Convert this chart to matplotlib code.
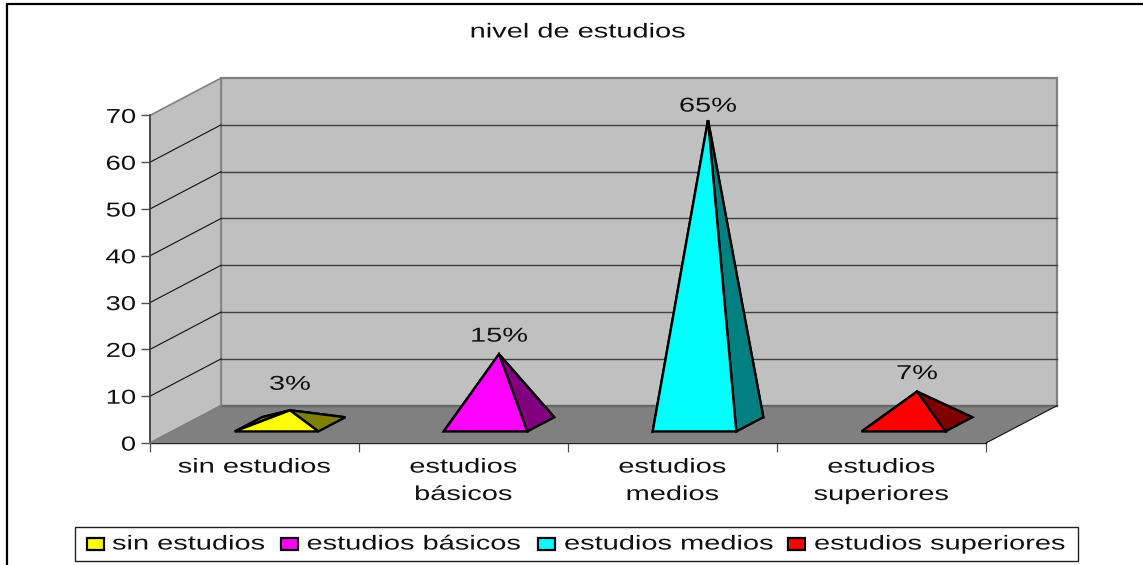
import matplotlib
matplotlib.use("Agg")
import matplotlib.pyplot as plt
from matplotlib.patches import Polygon, Rectangle
from matplotlib.lines import Line2D
from matplotlib.patheffects import AbstractPathEffect
from matplotlib.transforms import Affine2D

title = "nivel de estudios"
categories = ["sin estudios", "estudios básicos", "estudios medios", "estudios superiores"]
tick_labels = ["sin estudios", "estudios\nbásicos", "estudios\nmedios", "estudios\nsuperiores"]
values = [3, 15, 65, 7]
value_labels = ["3%", "15%", "65%", "7%"]
y_ticks = [0, 10, 20, 30, 40, 50, 60, 70]
front_colors = ["#FFFF00", "#FF00FF", "#00FFFF", "#FF0000"]
side_colors = ["#808000", "#800080", "#008080", "#800000"]

W, H = 1143, 565
FONT = "Liberation Sans"
FS = 14.5
SX = 1.44
DX, DV = 71 / 209, 37.3 / 4.68      # shear of one depth unit, in data units
Z0, Z1 = 0.31, 0.69                 # depth of the pyramid bases
HALF = 0.2                          # half width of a base in categories
LABEL_GAP = [26, 18, 14, 18]        # pixels between apex and its label


class Stretch(AbstractPathEffect):
    """Widen a text horizontally around one of its edges or its centre."""
    def __init__(self, text, sx, anchor="center"):
        super().__init__()
        self.text, self.sx, self.anchor = text, sx, anchor

    def draw_path(self, renderer, gc, tpath, affine, rgbFace=None):
        bb = self.text.get_window_extent(renderer)
        c = {"left": bb.x0, "right": bb.x1, "center": (bb.x0 + bb.x1) / 2}[self.anchor]
        new = affine + Affine2D().translate(-c, 0).scale(self.sx, 1).translate(c, 0)
        renderer.draw_path(gc, tpath, new, rgbFace)


def widen(t, anchor="center", sx=SX):
    t.set_path_effects([Stretch(t, sx, anchor)])
    return t


def proj(x, z, v):
    return (x + z * DX, v + z * DV)


fig = plt.figure(figsize=(W / 100, H / 100), dpi=100, facecolor="white")
px = Affine2D().scale(1, -1).translate(0, H) + fig.dpi_scale_trans.inverted() + fig.dpi_scale_trans

ax = fig.add_axes([150 / W, 1 - 443 / H, (986 - 150) / W, (443 - 115.4) / H])
ax.set_xlim(0, 4)
ax.set_ylim(0, 70)
ax.patch.set_visible(False)
for s in ("top", "right"):
    ax.spines[s].set_visible(False)
ax.spines["left"].set_color("#404040")
ax.spines["left"].set_linewidth(1.2)
ax.spines["bottom"].set_color("#202020")
ax.spines["bottom"].set_linewidth(1.0)

# walls and floor
ymax = y_ticks[-1]
ax.add_patch(Polygon([proj(0, 1, 0), proj(4, 1, 0), proj(4, 1, ymax), proj(0, 1, ymax)],
                     fc="#C0C0C0", ec="#808080", lw=1.6, clip_on=False, zorder=1))
ax.add_patch(Polygon([proj(0, 0, 0), proj(0, 1, 0), proj(0, 1, ymax), proj(0, 0, ymax)],
                     fc="#C0C0C0", ec="#808080", lw=1.2, clip_on=False, zorder=1))
for v in y_ticks[1:-1]:
    ax.plot(*zip(proj(0, 1, v), proj(4, 1, v)), color="#404040", lw=1.0, clip_on=False, zorder=2)
for v in y_ticks[1:-1]:
    ax.plot(*zip(proj(0, 0, v), proj(0, 1, v)), color="#101010", lw=0.8, clip_on=False, zorder=2)
ax.add_patch(Polygon([proj(0, 0, 0), proj(4, 0, 0), proj(4, 1, 0), proj(0, 1, 0)],
                     fc="#808080", ec="none", clip_on=False, zorder=3))
ax.plot(*zip(proj(0, 1, 0), proj(4, 1, 0)), color="#666666", lw=1.6, clip_on=False, zorder=3)
ax.plot(*zip(proj(0, 0, 0), proj(0, 1, 0)), color="#808080", lw=1.2, clip_on=False, zorder=3)
ax.plot(*zip(proj(4, 0, 0), proj(4, 1, 0)), color="#101010", lw=0.8, clip_on=False, zorder=3)

# pyramids
for i, (v, fc, sc) in enumerate(zip(values, front_colors, side_colors)):
    xc = i + 0.5
    fl, fr = proj(xc - HALF, Z0, 0), proj(xc + HALF, Z0, 0)
    bl, br = proj(xc - HALF, Z1, 0), proj(xc + HALF, Z1, 0)
    apex = proj(xc, (Z0 + Z1) / 2, v)
    faces = [([bl, br, apex], sc), ([fl, bl, apex], sc), ([fr, br, apex], sc), ([fl, fr, apex], fc)]
    for pts, col in faces:
        ax.add_patch(Polygon(pts, fc=col, ec="black", lw=1.7, joinstyle="miter",
                             clip_on=False, zorder=4))
    widen(ax.annotate(value_labels[i], xy=apex, xytext=(0, LABEL_GAP[i] * 0.72),
                      textcoords="offset points", ha="center", va="center",
                      family=FONT, fontsize=FS, color="#111111",
                      annotation_clip=False, zorder=6))

# axes ticks
ax.set_yticks(y_ticks)
ax.set_xticks(range(5))
ax.set_xticklabels([])
ax.set_xticks([i + 0.5 for i in range(4)], minor=True)
ax.set_xticklabels(tick_labels, minor=True, family=FONT, fontsize=FS, color="#111111",
                   linespacing=1.56, ha="center", va="top")
ax.tick_params(axis="x", which="major", length=6.5, width=0.9, color="#505050")
ax.tick_params(axis="x", which="minor", length=0, pad=10.5)
ax.tick_params(axis="y", length=6.5, width=1.0, color="#505050", pad=3.6)
for t in ax.get_xticklabels(minor=True):
    widen(t)
for t in ax.get_yticklabels():
    t.set_family(FONT)
    t.set_fontsize(FS)
    t.set_color("#111111")
    widen(t, "right", 1.36)

# title
widen(fig.text(578, 32, title, transform=px, ha="center", va="center",
               family=FONT, fontsize=FS, color="#111111"))

# outer frame (top and left edges show)
fig.add_artist(Line2D([6.5, 6.5, W], [H, 4, 4], transform=px, color="black", lw=1.6))

# legend
fig.add_artist(Rectangle((75, 527), 1002.5, 34, transform=px, fc="white", ec="#202020", lw=1.0))
swatch_x = [87, 281, 538, 788]
text_x = [112, 306.5, 564, 814]
for sx_, tx, name, col in zip(swatch_x, text_x, categories, front_colors):
    fig.add_artist(Rectangle((sx_, 538), 17, 12, transform=px, fc=col, ec="black", lw=1.6))
    widen(fig.text(tx, 544, name, transform=px, ha="left", va="center",
                   family=FONT, fontsize=FS, color="#111111"), "left")

fig.savefig("out.png", dpi=100, facecolor="white")
